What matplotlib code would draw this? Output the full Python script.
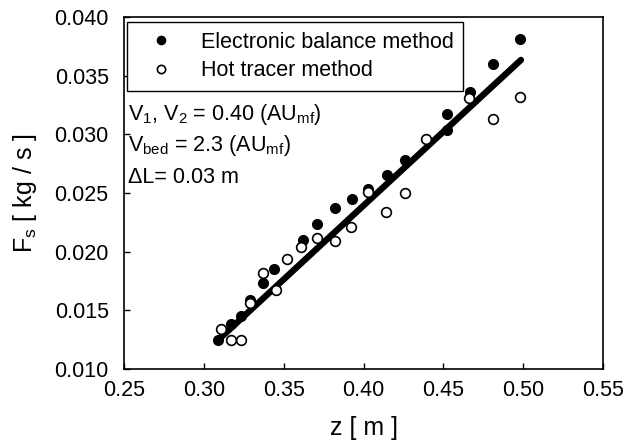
import matplotlib.pyplot as plt
import matplotlib.ticker as mticker

plt.rcParams['font.family'] = ['Liberation Sans', 'DejaVu Sans']
plt.rcParams['mathtext.fontset'] = 'custom'
plt.rcParams['mathtext.rm'] = 'Liberation Sans'
plt.rcParams['mathtext.it'] = 'Liberation Sans:italic'

# electronic balance method (filled)
z_bal = [0.309, 0.317, 0.323, 0.329, 0.337, 0.344, 0.362, 0.371, 0.382,
         0.393, 0.403, 0.415, 0.426, 0.452, 0.452, 0.467, 0.481, 0.498]
F_bal = [0.0125, 0.0138, 0.0145, 0.0159, 0.0173, 0.0185, 0.0210, 0.0224, 0.0237,
         0.0245, 0.0253, 0.0265, 0.0278, 0.0317, 0.0304, 0.0336, 0.0360, 0.0381]

# hot tracer method (open)
z_hot = [0.311, 0.317, 0.323, 0.329, 0.337, 0.345, 0.352, 0.361, 0.371,
         0.382, 0.392, 0.403, 0.414, 0.426, 0.439, 0.466, 0.481, 0.498]
F_hot = [0.0134, 0.0125, 0.0125, 0.0156, 0.0182, 0.0167, 0.0194, 0.0204, 0.0212,
         0.0209, 0.0221, 0.0251, 0.0234, 0.0250, 0.0296, 0.0331, 0.0313, 0.0332]

# fitted line
fit_z = [0.3085, 0.4986]
fit_F = [0.01241, 0.03634]

fig = plt.figure(figsize=(6.41, 4.48), dpi=100)
ax = fig.add_axes([124/641, 1-369/448, 479/641, 352/448])

ax.plot(fit_z, fit_F, color='black', lw=4.6, solid_capstyle='round', zorder=2)
ax.plot(z_bal, F_bal, 'o', color='black', ms=7, zorder=3,
        label='Electronic balance method')
ax.plot(z_hot, F_hot, 'o', mfc='white', mec='black', mew=1.2, ms=7, zorder=3,
        label='Hot tracer method')

ax.set_xlim(0.25, 0.55)
ax.set_ylim(0.010, 0.040)
ax.xaxis.set_major_locator(mticker.MultipleLocator(0.05))
ax.yaxis.set_major_locator(mticker.MultipleLocator(0.005))
ax.xaxis.set_major_formatter(mticker.FormatStrFormatter('%.2f'))
ax.yaxis.set_major_formatter(mticker.FormatStrFormatter('%.3f'))
ax.tick_params(direction='in', length=4, width=1, labelsize=15.5)
ax.tick_params(axis='x', pad=8)
ax.tick_params(axis='y', pad=11)
for s in ax.spines.values():
    s.set_linewidth(1.2)

ax.set_xlabel('z [ m ]', fontsize=18, labelpad=11)
ax.set_ylabel('F$_\\mathrm{s}$ [ kg / s ]', fontsize=18, labelpad=11)

leg = ax.legend(loc='upper left', bbox_to_anchor=(0.006, 0.986, 0.702, 0),
                mode='expand', borderaxespad=0, fontsize=15.5, markerscale=0.85,
                handlelength=2.27, handletextpad=0.72, borderpad=0.45,
                labelspacing=0.35, fancybox=False, edgecolor='black', framealpha=1)
leg.get_frame().set_linewidth(1.0)

ax.text(0.008, 0.722, 'V$_1$, V$_2$ = 0.40 (AU$_\\mathrm{mf}$)', transform=ax.transAxes,
        fontsize=15.5, va='center', ha='left')
ax.text(0.008, 0.636, 'V$_\\mathrm{bed}$ = 2.3 (AU$_\\mathrm{mf}$)', transform=ax.transAxes,
        fontsize=15.5, va='center', ha='left')
ax.text(0.008, 0.543, '\u0394L= 0.03 m', transform=ax.transAxes,
        fontsize=15.5, va='center', ha='left')

plt.savefig('out.png', dpi=100)
